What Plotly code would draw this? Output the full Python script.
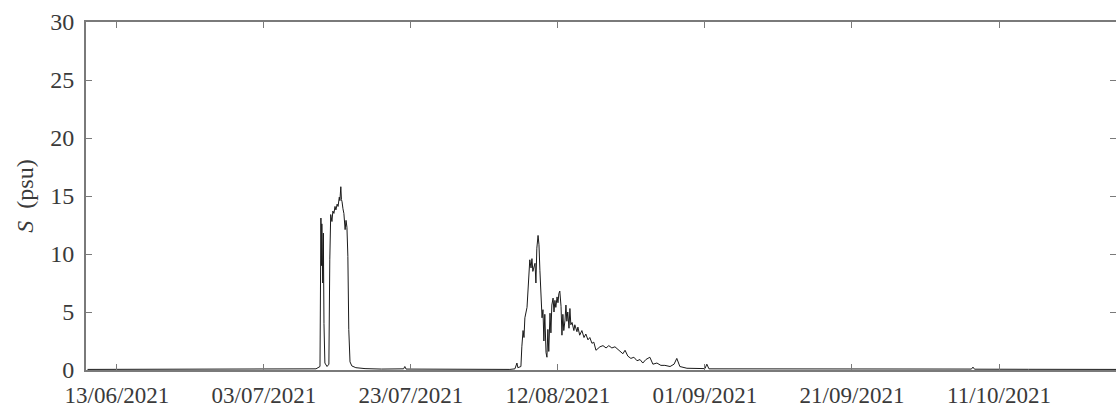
import plotly.graph_objects as go

times = [
    "2021-06-09 00:00", "2021-06-15 00:00", "2021-06-22 00:00", "2021-06-29 00:00",
    "2021-07-05 00:00", "2021-07-09 00:00", "2021-07-10 02:00",
    # event 1
    "2021-07-10 15:00", "2021-07-10 17:00", "2021-07-10 18:00", "2021-07-10 20:00",
    "2021-07-10 21:00", "2021-07-11 00:00", "2021-07-11 02:00", "2021-07-11 04:00",
    "2021-07-11 07:00", "2021-07-11 14:00", "2021-07-11 20:00", "2021-07-11 23:00",
    "2021-07-12 02:00", "2021-07-12 06:00", "2021-07-12 09:00", "2021-07-12 12:30",
    "2021-07-12 16:00", "2021-07-12 19:00", "2021-07-12 23:00", "2021-07-13 02:00",
    "2021-07-13 06:00", "2021-07-13 08:00", "2021-07-13 11:00", "2021-07-13 13:00",
    "2021-07-13 15:00", "2021-07-13 18:00", "2021-07-13 21:00", "2021-07-14 01:00",
    "2021-07-14 04:00", "2021-07-14 07:00", "2021-07-14 10:00", "2021-07-14 13:00",
    "2021-07-14 17:00", "2021-07-14 23:00", "2021-07-15 12:00", "2021-07-16 18:00",
    "2021-07-19 00:00", "2021-07-22 00:00", "2021-07-22 04:00", "2021-07-22 08:00",
    "2021-07-27 00:00", "2021-08-01 00:00", "2021-08-05 11:00",
    # event 2
    "2021-08-06 03:30", "2021-08-06 10:00", "2021-08-06 13:00", "2021-08-06 23:00",
    "2021-08-07 02:00", "2021-08-07 06:00", "2021-08-07 09:00", "2021-08-07 12:00",
    "2021-08-07 19:00", "2021-08-07 22:00", "2021-08-08 01:00", "2021-08-08 04:00",
    "2021-08-08 08:00", "2021-08-08 11:00", "2021-08-08 14:00", "2021-08-08 21:00",
    "2021-08-09 00:00", "2021-08-09 03:00", "2021-08-09 07:00", "2021-08-09 10:00",
    "2021-08-09 13:00", "2021-08-09 16:00", "2021-08-09 20:00", "2021-08-09 23:00",
    "2021-08-10 02:00", "2021-08-10 05:00", "2021-08-10 09:00", "2021-08-10 12:00",
    "2021-08-10 15:00", "2021-08-10 18:00", "2021-08-10 22:00", "2021-08-11 01:00",
    "2021-08-11 04:00", "2021-08-11 08:00", "2021-08-11 11:00", "2021-08-11 14:00",
    "2021-08-11 17:00", "2021-08-11 21:00", "2021-08-12 00:00", "2021-08-12 03:00",
    "2021-08-12 06:00", "2021-08-12 10:00", "2021-08-12 13:00", "2021-08-12 16:00",
    "2021-08-12 19:00", "2021-08-12 23:00", "2021-08-13 02:00", "2021-08-13 05:00",
    "2021-08-13 08:00", "2021-08-13 12:00", "2021-08-13 15:00", "2021-08-13 18:00",
    "2021-08-13 22:00", "2021-08-14 04:00", "2021-08-14 07:00", "2021-08-14 14:00",
    "2021-08-14 17:00", "2021-08-14 23:00", "2021-08-15 06:00", "2021-08-15 13:00",
    "2021-08-15 19:00", "2021-08-16 02:00", "2021-08-16 08:00", "2021-08-16 15:00",
    "2021-08-16 21:00", "2021-08-17 04:00", "2021-08-17 11:00", "2021-08-17 17:00",
    "2021-08-18 03:00", "2021-08-18 13:00", "2021-08-18 22:00", "2021-08-19 08:00",
    "2021-08-19 18:00", "2021-08-20 04:00", "2021-08-20 14:00", "2021-08-20 20:00",
    "2021-08-21 03:00", "2021-08-21 12:00", "2021-08-21 22:00", "2021-08-22 08:00",
    "2021-08-22 18:00", "2021-08-23 04:00", "2021-08-23 13:00", "2021-08-23 23:00",
    "2021-08-24 12:00", "2021-08-24 22:00", "2021-08-25 11:00", "2021-08-26 00:00",
    "2021-08-26 13:00", "2021-08-27 06:00", "2021-08-27 19:00", "2021-08-28 04:00",
    "2021-08-28 14:00", "2021-08-29 13:00", "2021-09-01 00:00", "2021-09-01 06:00",
    "2021-09-01 13:00", "2021-09-06 00:00", "2021-09-12 00:00", "2021-09-20 00:00",
    "2021-09-28 00:00", "2021-10-07 06:00", "2021-10-07 11:00", "2021-10-07 16:00",
    "2021-10-15 00:00", "2021-10-22 00:00", "2021-10-27 00:00",
]

salinity = [
    0.05, 0.05, 0.06, 0.05,
    0.06, 0.05, 0.10,
    # event 1
    0.3, 6.5, 13.1, 9.0,
    12.6, 7.5, 11.8, 4.0,
    0.6, 0.3, 0.5, 9.5,
    13.4, 12.8, 13.7, 13.5,
    14.1, 13.8, 14.3, 14.1,
    14.9, 14.6, 15.8, 14.7,
    14.5, 13.9, 13.5, 12.1,
    12.9, 12.3, 9.8, 3.5,
    0.7, 0.35, 0.2, 0.12,
    0.08, 0.10, 0.30, 0.08,
    0.05, 0.06, 0.05,
    # event 2
    0.1, 0.6, 0.2, 0.3,
    2.0, 3.4, 2.8, 4.5,
    5.4, 6.8, 8.5, 9.5,
    8.8, 9.6, 8.5, 9.2,
    7.5, 10.5, 11.6, 10.8,
    8.6, 6.5, 4.5, 5.2,
    2.5, 4.8, 1.5, 1.1,
    3.5, 1.6, 4.9, 3.2,
    5.6, 6.2, 5.0, 6.0,
    5.4, 6.3, 5.8, 6.6,
    6.8, 5.5, 3.0, 4.8,
    3.4, 4.3, 5.6, 4.2,
    5.0, 3.6, 5.3, 3.9,
    4.1, 3.4, 3.9, 3.3,
    3.7, 3.0, 3.4, 2.8,
    3.1, 2.6, 2.8, 2.3,
    2.4, 1.7, 1.9, 2.0,
    2.1, 1.9, 2.1, 1.9,
    2.0, 1.8, 1.6, 1.4,
    1.7, 1.2, 1.0, 1.1,
    0.8, 0.9, 0.6, 0.9,
    1.1, 0.5, 0.6, 0.4,
    0.4, 0.3, 0.5, 1.0,
    0.3, 0.15, 0.12, 0.5,
    0.1, 0.1, 0.08, 0.07,
    0.06, 0.08, 0.25, 0.07,
    0.06, 0.05, 0.05,
]

y_ticks = [0, 5, 10, 15, 20, 25, 30]
x_range = ["2021-06-08 19:00", "2021-10-26 22:00"]
y_range = [0, 30]

AXIS_COLOR = "#7a7a7a"
TEXT_COLOR = "#3a3a3a"
FONT = "Liberation Serif, Times New Roman, serif"

fig = go.Figure()
fig.add_trace(go.Scatter(
    x=times, y=salinity, mode="lines",
    line=dict(color="#1a1a1a", width=1),
    showlegend=False, hoverinfo="skip",
))
fig.add_trace(go.Scatter(x=[], y=[], yaxis="y2", showlegend=False))

fig.update_layout(
    width=1116, height=407,
    margin=dict(l=86, r=0, t=22, b=37),
    paper_bgcolor="white", plot_bgcolor="white",
    font=dict(family=FONT, color=TEXT_COLOR, size=23),
    xaxis=dict(
        type="date", range=x_range,
        tick0="2021-06-13", dtick=20 * 86400000, tickformat="%d/%m/%Y",
        ticks="inside", ticklen=6, tickwidth=1.2, tickcolor=AXIS_COLOR,
        showline=True, linecolor=AXIS_COLOR, linewidth=2, mirror="ticks",
        showgrid=False, zeroline=False, automargin=False,
        ticklabelstandoff=3,
        tickfont=dict(family=FONT, size=23, color=TEXT_COLOR),
    ),
    yaxis=dict(
        range=y_range, tickvals=y_ticks,
        ticks="inside", ticklen=6, tickwidth=1.2, tickcolor=AXIS_COLOR,
        showline=True, linecolor=AXIS_COLOR, linewidth=2, mirror=False,
        showgrid=False, zeroline=False, automargin=False,
        ticklabelstandoff=5,
        tickfont=dict(family=FONT, size=24, color=TEXT_COLOR),
        title=dict(text="<i>S</i>  (psu)", font=dict(family=FONT, size=24, color=TEXT_COLOR), standoff=10),
    ),
    yaxis2=dict(
        range=y_range, tickvals=y_ticks, overlaying="y", side="right",
        ticks="inside", ticklen=6, tickwidth=1.2, tickcolor=AXIS_COLOR,
        showticklabels=False, showline=False, showgrid=False, zeroline=False,
    ),
)

fig.write_html("out.html")
